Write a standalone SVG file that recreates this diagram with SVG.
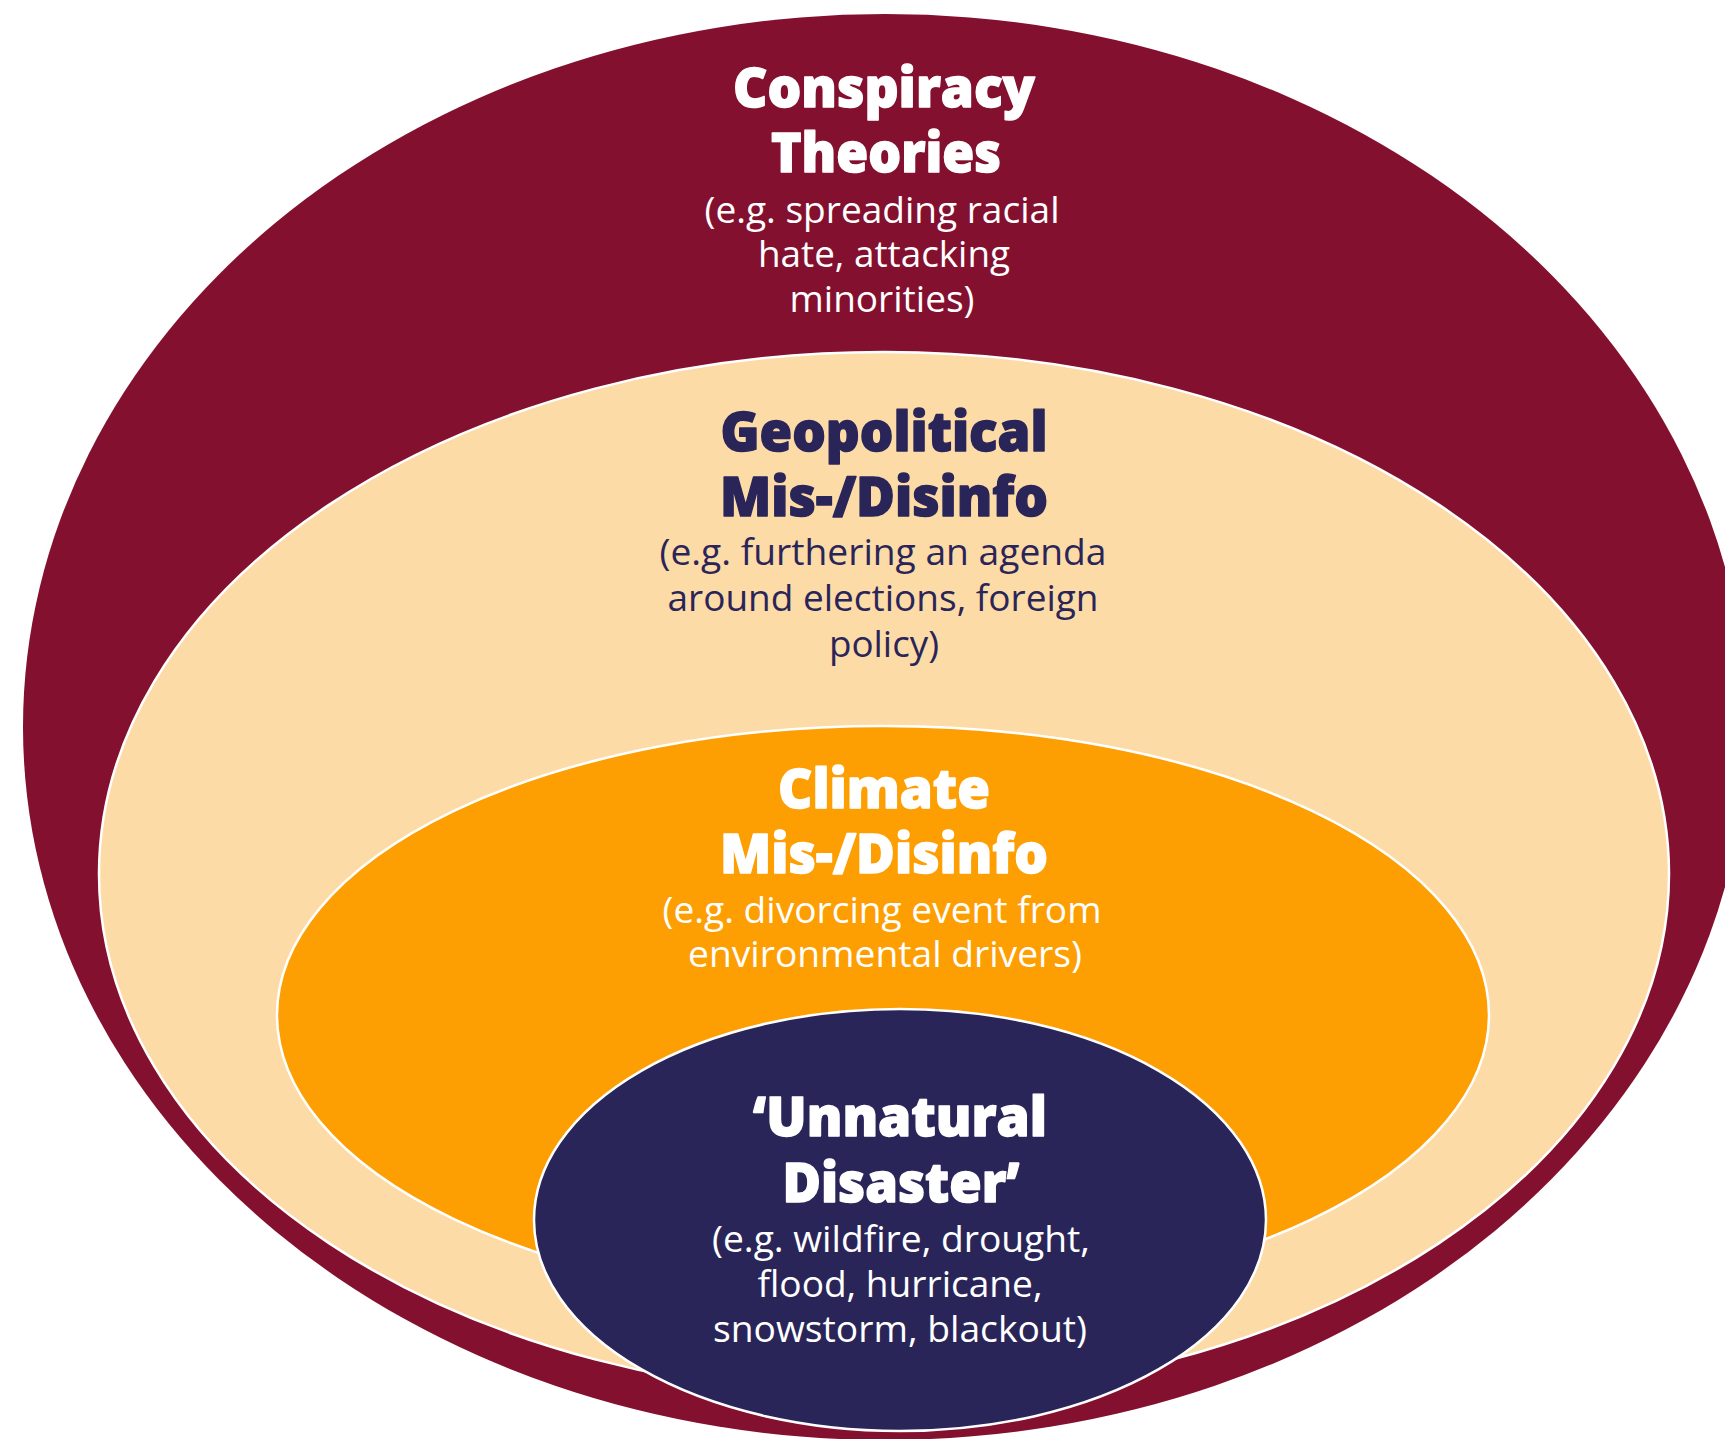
<svg xmlns="http://www.w3.org/2000/svg" width="1725" height="1439" viewBox="0 0 1725 1439">
<style>
.h{font-family:"Open Sans","Noto Sans","Liberation Sans",sans-serif;font-weight:800;font-size:54px;text-anchor:middle;stroke-width:1.4;stroke-linejoin:round}
.b{font-family:"Open Sans","Noto Sans","Liberation Sans",sans-serif;font-weight:400;font-size:36px;text-anchor:middle}
.w{fill:#FFFFFF}
.h.w{stroke:#FFFFFF}
.n{fill:#2A2559}
.h.n{stroke:#2A2559}
.ring{stroke:#FFFFFF;stroke-width:2.5}
</style>
<rect width="1725" height="1439" fill="#FFFFFF"/>
<g id="conspiracy">
<ellipse cx="885" cy="727" rx="862" ry="713" fill="#84102F"/>
<text class="h w" x="884" y="107" textLength="302" lengthAdjust="spacingAndGlyphs">Conspiracy</text>
<text class="h w" x="886" y="172" textLength="230" lengthAdjust="spacingAndGlyphs">Theories</text>
<text class="b w" x="882" y="223" textLength="355" lengthAdjust="spacingAndGlyphs">(e.g. spreading racial</text>
<text class="b w" x="884" y="267" textLength="252" lengthAdjust="spacingAndGlyphs">hate, attacking</text>
<text class="b w" x="882" y="312" textLength="185" lengthAdjust="spacingAndGlyphs">minorities)</text>
</g>
<g id="geopolitical">
<ellipse class="ring" cx="884" cy="874" rx="785" ry="522" fill="#FDDBA6"/>
<text class="h n" x="884" y="451" textLength="327" lengthAdjust="spacingAndGlyphs">Geopolitical</text>
<text class="h n" x="884" y="516" textLength="328" lengthAdjust="spacingAndGlyphs">Mis-/Disinfo</text>
<text class="b n" x="883" y="565" textLength="447" lengthAdjust="spacingAndGlyphs">(e.g. furthering an agenda</text>
<text class="b n" x="883" y="611" textLength="431" lengthAdjust="spacingAndGlyphs">around elections, foreign</text>
<text class="b n" x="884" y="657" textLength="110" lengthAdjust="spacingAndGlyphs">policy)</text>
</g>
<g id="climate">
<ellipse class="ring" cx="883" cy="1015" rx="606" ry="289" fill="#FD9E03"/>
<text class="h w" x="884" y="808" textLength="212" lengthAdjust="spacingAndGlyphs">Climate</text>
<text class="h w" x="884" y="873" textLength="328" lengthAdjust="spacingAndGlyphs">Mis-/Disinfo</text>
<text class="b w" x="882" y="923" textLength="439" lengthAdjust="spacingAndGlyphs">(e.g. divorcing event from</text>
<text class="b w" x="885" y="967" textLength="394" lengthAdjust="spacingAndGlyphs">environmental drivers)</text>
</g>
<g id="unnatural-disaster">
<ellipse class="ring" cx="900" cy="1220" rx="366" ry="211" fill="#2A2559"/>
<text class="h w" x="900" y="1136" textLength="294" lengthAdjust="spacingAndGlyphs">‘Unnatural</text>
<text class="h w" x="901" y="1202" textLength="237" lengthAdjust="spacingAndGlyphs">Disaster’</text>
<text class="b w" x="901" y="1252" textLength="378" lengthAdjust="spacingAndGlyphs">(e.g. wildfire, drought,</text>
<text class="b w" x="900" y="1297" textLength="285" lengthAdjust="spacingAndGlyphs">flood, hurricane,</text>
<text class="b w" x="900" y="1342" textLength="374" lengthAdjust="spacingAndGlyphs">snowstorm, blackout)</text>
</g>
<g id="connectors"/>
</svg>
